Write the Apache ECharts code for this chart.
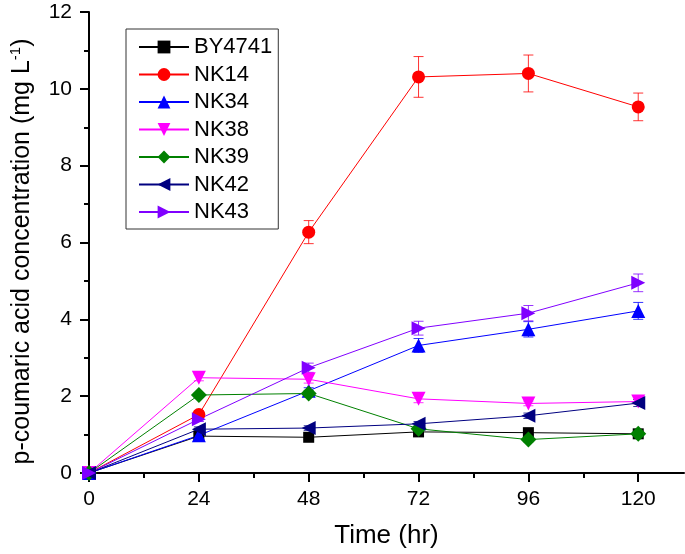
<!DOCTYPE html>
<html>
<head>
<meta charset="utf-8">
<script src="https://cdn.jsdelivr.net/npm/echarts@6/dist/echarts.min.js"></script>
<style>
html,body{margin:0;padding:0;background:#fff;}
#chart{width:685px;height:554px;}
</style>
</head>
<body>
<div id="chart"></div>
<script>
// ---- data ----
const times = [0, 24, 48, 72, 96, 120];
const xTickLabels = [0, 24, 48, 72, 96, 120];
const xMinorTicks = [12, 36, 60, 84, 108];
const yTickLabels = [0, 2, 4, 6, 8, 10, 12];

const seriesNames = ['BY4741', 'NK14', 'NK34', 'NK38', 'NK39', 'NK42', 'NK43'];

const BY4741 = [0, 0.96, 0.93, 1.07, 1.05, 1.02];
const NK14   = [0, 1.52, 6.27, 10.31, 10.40, 9.53];
const NK34   = [0, 0.98, 2.14, 3.32, 3.74, 4.22];
const NK38   = [0, 2.48, 2.44, 1.93, 1.81, 1.86];
const NK39   = [0, 2.03, 2.07, 1.15, 0.87, 1.02];
const NK42   = [0, 1.14, 1.17, 1.28, 1.49, 1.82];
const NK43   = [0, 1.40, 2.74, 3.77, 4.16, 4.95];

const BY4741_err = [0, 0.06, 0.05, 0.06, 0.05, 0.05];
const NK14_err   = [0, 0.10, 0.30, 0.53, 0.48, 0.36];
const NK34_err   = [0, 0.06, 0.08, 0.18, 0.20, 0.22];
const NK38_err   = [0, 0.08, 0.10, 0.10, 0.06, 0.06];
const NK39_err   = [0, 0.06, 0.08, 0.07, 0.06, 0.06];
const NK42_err   = [0, 0.06, 0.06, 0.06, 0.07, 0.09];
const NK43_err   = [0, 0.06, 0.12, 0.18, 0.20, 0.23];

// ---- styling ----
const FONT = 'Liberation Sans, Arial, sans-serif';
const styles = {
  BY4741: {color: '#000000', symbol: 'rect', size: 11, rotate: 0},
  NK14:   {color: '#ff0000', symbol: 'circle', size: 13, rotate: 0},
  NK34:   {color: '#0000ff', symbol: 'triangle', size: 14, rotate: 0},
  NK38:   {color: '#ff00ff', symbol: 'triangle', size: 14, rotate: 180},
  NK39:   {color: '#008000', symbol: 'diamond', size: 16, rotate: 0},
  NK42:   {color: '#000080', symbol: 'triangle', size: 14, rotate: 90},
  NK43:   {color: '#8000ff', symbol: 'triangle', size: 14, rotate: -90}
};
const values = {BY4741, NK14, NK34, NK38, NK39, NK42, NK43};
const errs = {BY4741: BY4741_err, NK14: NK14_err, NK34: NK34_err, NK38: NK38_err,
              NK39: NK39_err, NK42: NK42_err, NK43: NK43_err};

function errorRender(color) {
  return function (params, api) {
    const x = api.value(0), lo = api.value(1), hi = api.value(2);
    const pLo = api.coord([x, lo]);
    const pHi = api.coord([x, hi]);
    const cap = 5;
    const st = {stroke: color, lineWidth: 1, opacity: 0.8};
    return {
      type: 'group',
      children: [
        {type: 'line', shape: {x1: pLo[0], y1: pLo[1], x2: pHi[0], y2: pHi[1]}, style: st},
        {type: 'line', shape: {x1: pHi[0] - cap, y1: pHi[1], x2: pHi[0] + cap, y2: pHi[1]}, style: st},
        {type: 'line', shape: {x1: pLo[0] - cap, y1: pLo[1], x2: pLo[0] + cap, y2: pLo[1]}, style: st}
      ]
    };
  };
}

const series = [];
seriesNames.forEach(function (name) {
  const s = styles[name];
  series.push({
    name: name + ' error',
    type: 'custom',
    renderItem: errorRender(s.color),
    data: times.map(function (t, i) {
      return [t, values[name][i] - errs[name][i], values[name][i] + errs[name][i]];
    }),
    encode: {x: 0, y: [1, 2]},
    silent: true,
    z: 2
  });
});
seriesNames.forEach(function (name) {
  const s = styles[name];
  series.push({
    name: name,
    type: 'line',
    data: times.map(function (t, i) { return [t, values[name][i]]; }),
    symbol: s.symbol,
    symbolSize: s.size,
    symbolRotate: s.rotate,
    showAllSymbol: true,
    color: s.color,
    lineStyle: {width: 1, color: s.color},
    itemStyle: {color: s.color},
    z: 3
  });
});

const chart = echarts.init(document.getElementById('chart'), null, {renderer: 'canvas'});
chart.setOption({
  animation: false,
  backgroundColor: '#ffffff',
  grid: {left: 89, right: 1, top: 12, bottom: 80, containLabel: false},
  legend: {
    data: seriesNames,
    orient: 'vertical',
    left: 126,
    top: 29,
    padding: [7, 6, 6, 12],
    itemWidth: 50,
    itemHeight: 16,
    itemGap: 5.5,
    borderColor: '#333333',
    borderWidth: 1,
    textStyle: {fontSize: 22, lineHeight: 22, color: '#000', fontFamily: FONT}
  },
  xAxis: [{
    type: 'value',
    min: 0,
    max: 130,
    interval: 24,
    name: 'Time (hr)',
    nameLocation: 'middle',
    nameGap: 50,
    nameTextStyle: {fontSize: 26, color: '#000', fontFamily: FONT},
    axisLine: {show: true, onZero: false, lineStyle: {color: '#000', width: 2}},
    axisTick: {show: true, inside: false, length: 9, customValues: xTickLabels, lineStyle: {color: '#000', width: 2}},
    axisLabel: {show: true, margin: 16, customValues: xTickLabels, fontSize: 21, color: '#000', fontFamily: FONT},
    splitLine: {show: false}
  }, {
    type: 'value',
    min: 0,
    max: 130,
    position: 'bottom',
    offset: 0,
    axisLine: {show: false},
    axisTick: {show: true, inside: false, length: 5, customValues: xMinorTicks, lineStyle: {color: '#000', width: 2}},
    axisLabel: {show: false},
    splitLine: {show: false}
  }],
  yAxis: {
    type: 'value',
    min: 0,
    max: 12,
    interval: 2,
    name: 'p-coumaric acid concentration (mg L{s|-1})',
    nameLocation: 'middle',
    nameGap: 53,
    nameTextStyle: {
      fontSize: 25, color: '#000', fontFamily: FONT,
      padding: [0, 18, 0, 0],
      rich: {s: {fontSize: 15, color: '#000', fontFamily: FONT, padding: [0, 0, 13, 0]}}
    },
    axisLine: {show: true, onZero: false, lineStyle: {color: '#000', width: 2}},
    axisTick: {show: true, inside: false, length: 9, lineStyle: {color: '#000', width: 2}},
    minorTick: {show: true, splitNumber: 2, length: 5, lineStyle: {color: '#000', width: 2}},
    axisLabel: {margin: 17, fontSize: 21, color: '#000', fontFamily: FONT,
      formatter: function (v) { return yTickLabels.indexOf(v) >= 0 ? String(v) : ''; }},
    splitLine: {show: false},
    minorSplitLine: {show: false}
  },
  series: series
});
</script>
</body>
</html>
